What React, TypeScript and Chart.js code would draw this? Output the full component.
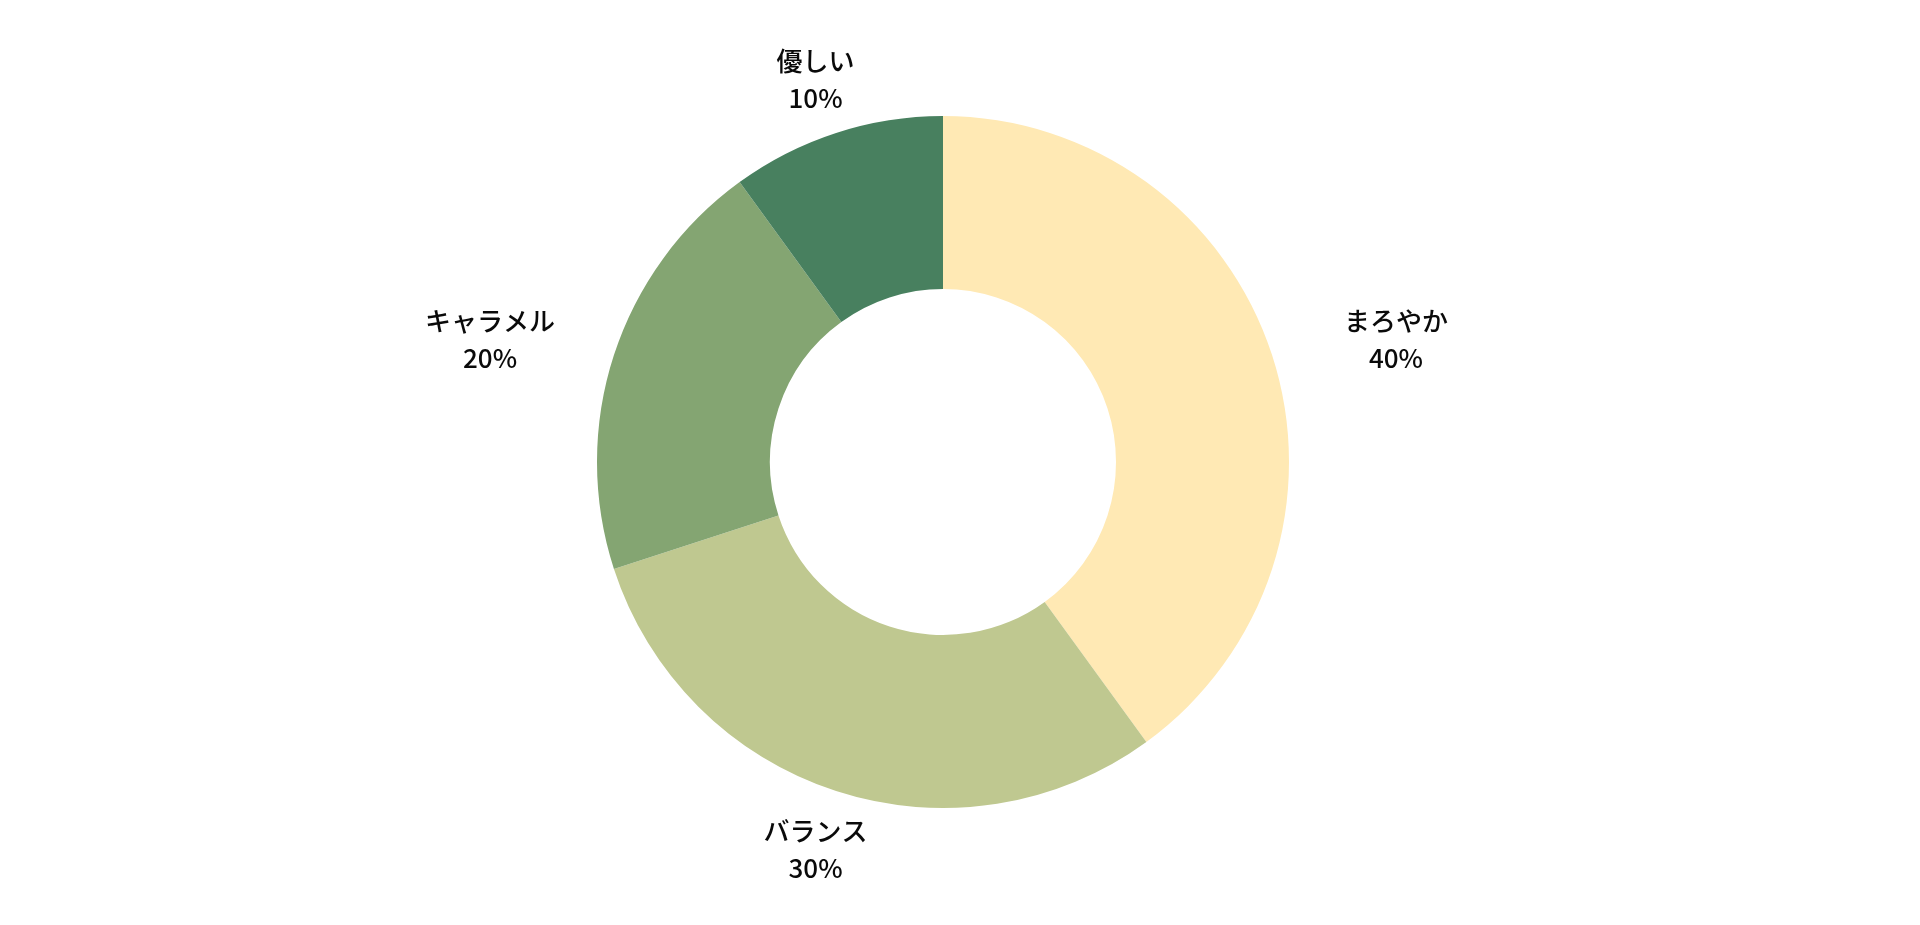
import React, { useEffect, useRef } from "react";
import { Chart, registerables } from "chart.js";

Chart.register(...registerables);

const categories = ["まろやか", "バランス", "キャラメル", "優しい"];
const values = [40, 30, 20, 10];
const percentLabels = ["40%", "30%", "20%", "10%"];
const colors = ["#FFE9B4", "#BFC890", "#84A572", "#48805F"];

const FONT = '"Noto Sans CJK JP", "Noto Sans", sans-serif';

const labelPlugin = {
  id: "outerLabels",
  afterDraw(chart: any) {
    const ctx = chart.ctx;
    const meta = chart.getDatasetMeta(0);
    ctx.save();
    ctx.font = `500 26px ${FONT}`;
    ctx.fillStyle = "#0a0a0a";
    ctx.textAlign = "center";
    ctx.textBaseline = "middle";
    meta.data.forEach((arc: any, i: number) => {
      const { x, y, startAngle, endAngle, outerRadius } = arc.getProps(
        ["x", "y", "startAngle", "endAngle", "outerRadius"],
        true
      );
      const mid = (startAngle + endAngle) / 2;
      const R = outerRadius * 1.17;
      const c = Math.cos(mid);
      const s = Math.sin(mid);
      const px = x + R * c + Math.sign(c) * 79 * Math.pow(Math.abs(c), 3);
      const py = y + R * s;
      ctx.fillText(categories[i], px, py - 16);
      ctx.fillText(percentLabels[i], px, py + 21);
    });
    ctx.restore();
  },
};

export default function App() {
  const canvasRef = useRef<HTMLCanvasElement | null>(null);

  useEffect(() => {
    if (!canvasRef.current) return;
    const chart = new Chart(canvasRef.current, {
      type: "doughnut",
      data: {
        labels: categories,
        datasets: [
          {
            data: values,
            backgroundColor: colors,
            borderWidth: 0,
          },
        ],
      },
      options: {
        animation: false,
        responsive: false,
        maintainAspectRatio: false,
        cutout: "50%",
        layout: { padding: { top: 116, bottom: 117, left: 0, right: 34 } },
        plugins: {
          legend: { display: false },
          tooltip: { enabled: false },
        },
      },
      plugins: [labelPlugin],
    });
    return () => chart.destroy();
  }, []);

  return (
    <div style={{ position: "fixed", left: 0, top: 0, width: 1920, height: 925, background: "#fff" }}>
      <canvas ref={canvasRef} width={1920} height={925} style={{ width: 1920, height: 925 }} />
    </div>
  );
}
